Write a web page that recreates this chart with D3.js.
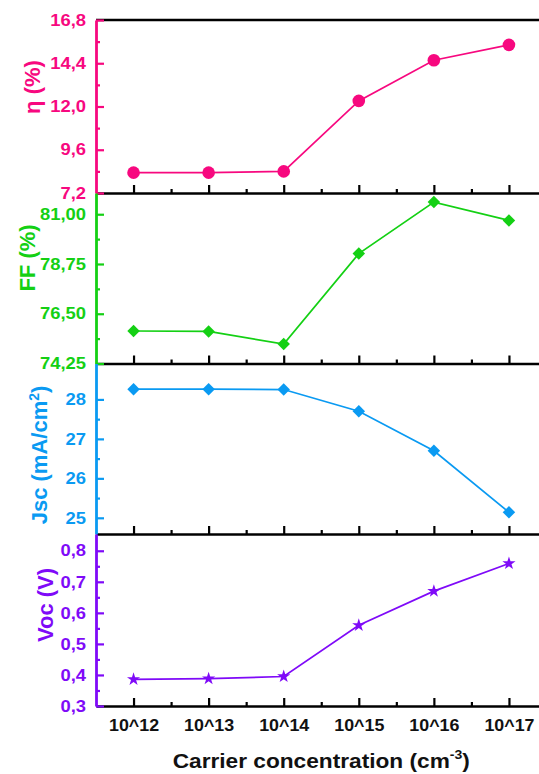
<!DOCTYPE html>
<html>
<head>
<meta charset="utf-8">
<script src="https://cdn.jsdelivr.net/npm/d3@7"></script>
<style>
  html, body { margin: 0; padding: 0; background: #fff; }
  svg { display: block; font-family: "Liberation Sans", Arial, sans-serif; }
</style>
</head>
<body>
<svg id="chart" width="539" height="774"></svg>
<script>
// ---------- data ----------
const categories = ["10^12", "10^13", "10^14", "10^15", "10^16", "10^17"];

const etaValues = [8.33, 8.33, 8.40, 12.31, 14.57, 15.42];
const ffValues  = [75.72, 75.70, 75.13, 79.22, 81.55, 80.72];
const jscValues = [28.26, 28.26, 28.25, 27.70, 26.70, 25.14];
const vocValues = [0.386, 0.388, 0.395, 0.560, 0.670, 0.759];

const etaTicks = [7.2, 9.6, 12.0, 14.4, 16.8];
const etaTickLabels = ["7,2", "9,6", "12,0", "14,4", "16,8"];
const ffTicks = [74.25, 76.5, 78.75, 81.0];
const ffTickLabels = ["74,25", "76,50", "78,75", "81,00"];
const jscTicks = [25, 26, 27, 28];
const jscTickLabels = ["25", "26", "27", "28"];
const vocTicks = [0.3, 0.4, 0.5, 0.6, 0.7, 0.8];
const vocTickLabels = ["0,3", "0,4", "0,5", "0,6", "0,7", "0,8"];

const etaDomain = [7.2, 16.8];
const ffDomain = [74.25, 81.96];
const jscDomain = [24.59, 28.91];
const vocDomain = [0.3, 0.854];

// ---------- layout / style ----------
const svg = d3.select("#chart");
const X0 = 96, X1 = 546.5;
const STRETCH = 1.13;

const panels = [
  { values: etaValues, ticks: etaTicks, labels: etaTickLabels, domain: etaDomain,
    top: 20, bottom: 193, color: "#f7087f", symbol: "circle",
    title: [{t: "η (%)"}], titleX: 40, titleY: 87 },
  { values: ffValues, ticks: ffTicks, labels: ffTickLabels, domain: ffDomain,
    top: 193, bottom: 363.5, color: "#14d014", symbol: "diamond",
    title: [{t: "FF (%)"}], titleX: 35, titleY: 258 },
  { values: jscValues, ticks: jscTicks, labels: jscTickLabels, domain: jscDomain,
    top: 363.5, bottom: 534, color: "#0a9af2", symbol: "diamond",
    title: [{t: "Jsc (mA/cm"}, {t: "2", sup: true}, {t: ")"}], titleX: 47, titleY: 455 },
  { values: vocValues, ticks: vocTicks, labels: vocTickLabels, domain: vocDomain,
    top: 534, bottom: 706, color: "#7f0af8", symbol: "star",
    title: [{t: "Voc (V)"}], titleX: 53, titleY: 605 }
];

const x = d3.scaleLinear().domain([-0.5, categories.length - 0.5]).range([X0, X1]);
const catIdx = categories.map((c, i) => i);
const xMinor = catIdx.slice(0, -1).map(i => i + 0.5);

// top frame line
svg.append("line")
  .attr("x1", X0).attr("x2", X1).attr("y1", 20).attr("y2", 20)
  .attr("stroke", "#000").attr("stroke-width", 2.6);

panels.forEach((p, pi) => {
  const y = d3.scaleLinear().domain(p.domain).range([p.bottom, p.top]);
  const isLast = pi === panels.length - 1;

  // x axis (black) with inward ticks
  const gx = svg.append("g").attr("transform", `translate(0,${p.bottom})`);
  gx.call(d3.axisBottom(x).tickValues(catIdx).tickSizeInner(-8).tickSizeOuter(0)
    .tickFormat(i => isLast ? categories[i] : ""));
  gx.select(".domain").attr("stroke", "#000").attr("stroke-width", 2.6);
  gx.selectAll(".tick line").attr("stroke", "#000").attr("stroke-width", 2.2);
  gx.selectAll(".tick text")
    .attr("y", 0).attr("dy", null)
    .attr("transform", `translate(0,24.5) scale(${STRETCH},1)`)
    .attr("fill", "#111").attr("font-size", "15.8px").attr("font-weight", "bold");
  const gxm = svg.append("g").attr("transform", `translate(0,${p.bottom})`);
  gxm.call(d3.axisBottom(x).tickValues(xMinor).tickSizeInner(-4).tickSizeOuter(0).tickFormat(""));
  gxm.select(".domain").remove();
  gxm.selectAll(".tick line").attr("stroke", "#000").attr("stroke-width", 2.2);

  // line + markers
  const line = d3.line().x((d, i) => x(i)).y(d => y(d));
  svg.append("path").datum(p.values)
    .attr("d", line).attr("fill", "none")
    .attr("stroke", p.color).attr("stroke-width", 1.7);

  let sym, size, rot = 0;
  if (p.symbol === "circle") { sym = d3.symbolCircle; size = 125; }
  else if (p.symbol === "diamond") { sym = d3.symbolSquare; size = 78; rot = 45; }
  else { sym = d3.symbolStar; size = 54; }
  svg.append("g").selectAll("path").data(p.values).join("path")
    .attr("d", d3.symbol().type(sym).size(size))
    .attr("transform", (d, i) => `translate(${x(i)},${y(d)}) rotate(${rot})`)
    .attr("fill", p.color);

  // y axis (colored) with inward ticks
  const gyMinorVals = p.ticks.slice(0, -1).map((t, i) => (t + p.ticks[i + 1]) / 2);
  const gym = svg.append("g").attr("transform", `translate(${X0},0)`);
  gym.call(d3.axisLeft(y).tickValues(gyMinorVals).tickSizeInner(-4).tickSizeOuter(0).tickFormat(""));
  gym.select(".domain").remove();
  gym.selectAll(".tick line").attr("stroke", p.color).attr("stroke-width", 2.2);

  const gy = svg.append("g").attr("transform", `translate(${X0},0)`);
  gy.call(d3.axisLeft(y).tickValues(p.ticks).tickSizeInner(-8).tickSizeOuter(0)
    .tickFormat((d, i) => p.labels[i]));
  gy.select(".domain").attr("stroke", p.color).attr("stroke-width", 2.8);
  gy.selectAll(".tick line").attr("stroke", p.color).attr("stroke-width", 2.2);
  gy.selectAll(".tick text")
    .attr("x", 0)
    .attr("transform", `translate(-10,0) scale(${STRETCH},1)`)
    .attr("fill", p.color).attr("font-size", "16.3px").attr("font-weight", "bold");

  // axis title
  const tt = svg.append("text")
    .attr("transform", `translate(${p.titleX},${p.titleY}) rotate(-90)`)
    .attr("text-anchor", "middle")
    .attr("fill", p.color).attr("font-size", "22px").attr("font-weight", "bold");
  p.title.forEach(part => {
    const ts = tt.append("tspan").text(part.t);
    if (part.sup) ts.attr("font-size", "14px").attr("dy", "-8");
    else if (tt.selectAll("tspan").size() > 1) ts.attr("dy", "8");
  });
});

// x axis title
const xt = svg.append("text")
  .attr("transform", `translate(${(X0 + X1) / 2},768) scale(1.08,1)`)
  .attr("text-anchor", "middle")
  .attr("fill", "#111").attr("font-size", "21px").attr("font-weight", "bold");
xt.append("tspan").text("Carrier concentration (cm");
xt.append("tspan").text("-3").attr("font-size", "13px").attr("dy", "-9");
xt.append("tspan").text(")").attr("dy", "9");
</script>
</body>
</html>
